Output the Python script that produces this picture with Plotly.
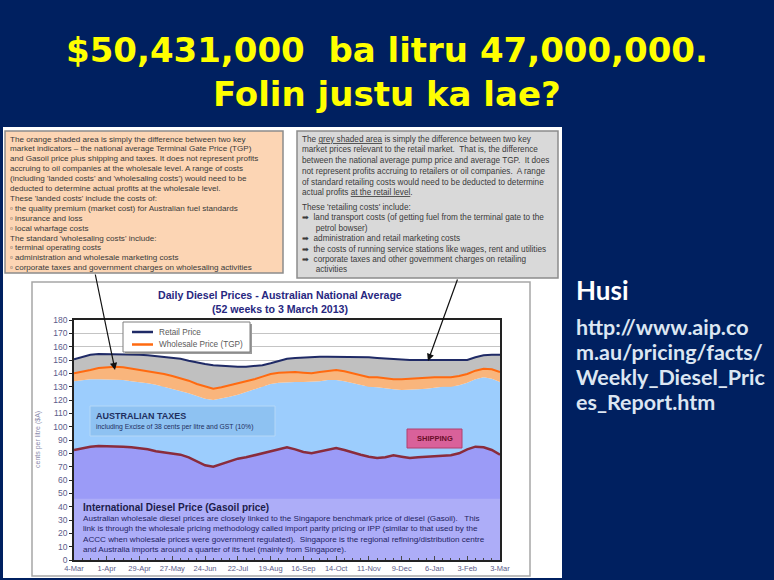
import plotly.graph_objects as go
import pandas as pd

W, H = 774, 580

# weekly readings, 52 weeks to 3 March 2013 (cents per litre)
WEEKS = pd.date_range("2012-03-04", "2013-03-03", freq="7D")
TICK_LABELS = ["4-Mar", "1-Apr", "29-Apr", "27-May", "24-Jun", "22-Jul", "19-Aug",
               "16-Sep", "14-Oct", "11-Nov", "9-Dec", "6-Jan", "3-Feb", "3-Mar"]

RETAIL = [150.5, 152.5, 154, 154.5, 154.5, 154.5, 154.5, 154, 154, 153.5,
          153, 152.5, 152, 151, 149.5, 148, 147, 146, 145.5, 145,
          145, 145, 145.5, 146, 147.5, 149.5, 151, 151.5, 152, 152,
          152.5, 152.5, 152.5, 152.5, 152.5, 152.5, 152, 151.5, 151, 150.5,
          150.5, 150, 150, 150, 150, 150, 150, 149.5, 150, 152,
          153.5, 154, 154]
TGP = [140, 141, 142.5, 144, 144.5, 145, 144.5, 143.5, 143, 142,
       141, 139.5, 138, 136.5, 134.5, 132, 130, 128.5, 129.5, 131,
       132.5, 133.5, 135.5, 137.5, 139.5, 140.5, 141, 141, 140.5, 140,
       141, 142, 142.5, 141.5, 140, 138.5, 137, 137, 136, 135.5,
       135.5, 136, 136.5, 136.5, 137, 137, 137, 138, 139.5, 142,
       143.5, 143, 141]
# gasoil + shipping + australian taxes
TAX_TOP = [134, 135, 135.5, 135.5, 135.5, 135.5, 135, 134, 133.5, 132.5,
           131.5, 130, 128.5, 127, 125, 123, 121, 120, 121, 122.5,
           124, 126, 128, 130, 132, 133, 133.5, 133.5, 133.5, 133.5,
           134, 135, 135, 134, 132.5, 131.5, 130, 129.5, 128.5, 128,
           127.5, 127.5, 128, 128.5, 129.5, 130, 130, 131, 133, 135.5,
           137, 136, 133.5]
GASOIL = [82.5, 84, 85, 85.5, 85.5, 85.5, 85, 84.5, 84, 83,
          81.5, 80.5, 80, 79, 77, 74, 71, 70, 72, 74.5,
          76, 77, 78.5, 80, 81.5, 83, 84.5, 83, 81, 80,
          81.5, 83, 84, 82.5, 80.5, 79, 77.5, 76.5, 77, 78.5,
          77.5, 76.5, 77, 77.5, 77.5, 78, 78.5, 80, 83, 85,
          84.5, 82.5, 79]

LEGEND_NAMES = ["Retail Price", "Wholesale Price (TGP)"]
LEGEND_COLORS = ["#1f2a66", "#ff6a10"]

ORANGE_NOTE = [
    "The orange shaded area is simply the difference between two key",
    "market indicators – the national average Terminal Gate Price (TGP)",
    "and Gasoil price plus shipping and taxes. It does not represent profits",
    "accruing to oil companies at the wholesale level. A range of costs",
    "(including 'landed costs' and 'wholesaling costs') would need to be",
    "deducted to determine actual profits at the wholesale level.",
    "These 'landed costs' include the costs of:",
    "▫ the quality premium (market cost) for Australian fuel standards",
    "▫ insurance and loss",
    "▫ local wharfage costs",
    "The standard 'wholesaling costs' include:",
    "▫ terminal operating costs",
    "▫ administration and wholesale marketing costs",
    "▫ corporate taxes and government charges on wholesaling activities",
]
GREY_NOTE = [
    "The <u>grey shaded area</u> is simply the difference between two key",
    "market prices relevant to the retail market.  That is, the difference",
    "between the national average pump price and average TGP.  It does",
    "not represent profits accruing to retailers or oil companies.  A range",
    "of standard retailing costs would need to be deducted to determine",
    "actual profits <u>at the retail level</u>.",
]
GREY_LIST = [
    "These 'retailing costs' include:",
    "➡  land transport costs (of getting fuel from the terminal gate to the",
    "      petrol bowser)",
    "➡  administration and retail marketing costs",
    "➡  the costs of running service stations like wages, rent and utilities",
    "➡  corporate taxes and other government charges on retailing",
    "      activities",
]
GASOIL_NOTE = [
    "Australian wholesale diesel prices are closely linked to the Singapore benchmark price of diesel (Gasoil).   This",
    "link is through the wholesale pricing methodology called import parity pricing or IPP (similar to that used by the",
    "ACCC when wholesale prices were government regulated).  Singapore is the regional refining/distribution centre",
    "and Australia imports around a quarter of its fuel (mainly from Singapore).",
]
URL_LINES = ["http://www.aip.co", "m.au/pricing/facts/", "Weekly_Diesel_Pric", "es_Report.htm"]

NAVY = "#002060"
AXIS_TXT = "#5c5c8a"
FONT = "Liberation Sans, Arial, sans-serif"


def px(x):
    return x / W


def py(y):
    return 1 - y / H


ann = []


def label(x, y, text, size, color, family=FONT, xanchor="left", angle=0):
    ann.append(dict(x=px(x), y=py(y), xref="paper", yref="paper", xanchor=xanchor,
                    yanchor="middle", showarrow=False, text=text, textangle=angle,
                    font=dict(family=family, size=size, color=color)))


fig = go.Figure()

# stacked bands
fig.add_trace(go.Scatter(x=WEEKS, y=GASOIL, fill="tozeroy", fillcolor="#9b9bf7",
                         line=dict(width=0), mode="lines", hoverinfo="skip"))
fig.add_trace(go.Scatter(x=WEEKS, y=TAX_TOP, fill="tonexty", fillcolor="#9ccdfd",
                         line=dict(width=0), mode="lines", hoverinfo="skip"))
fig.add_trace(go.Scatter(x=WEEKS, y=TGP, fill="tonexty", fillcolor="#f9b57c",
                         line=dict(width=0), mode="lines", hoverinfo="skip"))
fig.add_trace(go.Scatter(x=WEEKS, y=RETAIL, fill="tonexty", fillcolor="#c0c0c0",
                         line=dict(width=0), mode="lines", hoverinfo="skip"))

# lines on top
fig.add_trace(go.Scatter(x=WEEKS, y=GASOIL, mode="lines", name="Gasoil",
                         line=dict(color="#8a2c3c", width=2.5)))
fig.add_trace(go.Scatter(x=WEEKS, y=RETAIL, mode="lines", name=LEGEND_NAMES[0],
                         line=dict(color=LEGEND_COLORS[0], width=2)))
fig.add_trace(go.Scatter(x=WEEKS, y=TGP, mode="lines", name=LEGEND_NAMES[1],
                         line=dict(color=LEGEND_COLORS[1], width=2)))

shapes = [
    # photo area on the slide
    dict(type="rect", xref="paper", yref="paper", x0=px(3), x1=px(562), y0=py(578), y1=py(127),
         fillcolor="white", line=dict(width=0), layer="below"),
    # chart frame
    dict(type="rect", xref="paper", yref="paper", x0=px(32), x1=px(530), y0=py(576), y1=py(282),
         fillcolor="white", line=dict(color="#a6a6a6", width=1.5), layer="below"),
    # note boxes
    dict(type="rect", xref="paper", yref="paper", x0=px(5), x1=px(283), y0=py(273), y1=py(131),
         fillcolor="#fcd5b4", line=dict(color="#8c8c8c", width=1.5), layer="below"),
    dict(type="rect", xref="paper", yref="paper", x0=px(297), x1=px(558), y0=py(278), y1=py(131),
         fillcolor="#d9d9d9", line=dict(color="#8c8c8c", width=1.5), layer="below"),
    # gasoil text panel
    dict(type="rect", xref="x domain", yref="y", x0=0, x1=1, y0=0, y1=46,
         fillcolor="rgba(255,255,255,0.18)", line=dict(width=0), layer="above"),
    # australian taxes label box
    dict(type="rect", xref="paper", yref="paper", x0=px(90), x1=px(275), y0=py(436), y1=py(406),
         fillcolor="#8ec2f2", line=dict(color="#b5d8f7", width=1), layer="above"),
    # shipping label box
    dict(type="rect", xref="paper", yref="paper", x0=px(407), x1=px(462), y0=py(448), y1=py(429),
         fillcolor="#d9619a", line=dict(color="#b0406f", width=1), layer="above"),
    # legend box (with a soft shadow)
    dict(type="rect", xref="paper", yref="paper", x0=px(125), x1=px(252), y0=py(354), y1=py(324),
         fillcolor="#9a9a9a", line=dict(width=0), layer="above"),
    dict(type="rect", xref="paper", yref="paper", x0=px(123), x1=px(250), y0=py(352), y1=py(322),
         fillcolor="white", line=dict(color="#7f7f7f", width=1), layer="above"),
]

# manual legend
for i, (name, col) in enumerate(zip(LEGEND_NAMES, LEGEND_COLORS)):
    yy = 332 + 12.5 * i
    shapes.append(dict(type="line", xref="paper", yref="paper", x0=px(132), x1=px(153),
                       y0=py(yy), y1=py(yy), line=dict(color=col, width=2.5), layer="above"))
    label(157, yy, name, 8.2, "#5a5a5a")

# slide title
label(387, 50, "<b>$50,431,000  ba litru 47,000,000.</b>", 34, "#ffff00", "DejaVu Sans", "center")
label(387, 94, "<b>Folin justu ka lae?</b>", 34, "#ffff00", "DejaVu Sans", "center")

# source on the right
label(574, 290, "<b>Husi</b>", 26, "white", "Lato")
for i, line in enumerate(URL_LINES):
    label(574, 327 + 25 * i, f"<b>{line}</b>", 21.5, "#dce6f2", "Lato")

# text boxes above chart
for i, line in enumerate(ORANGE_NOTE):
    label(8, 139 + 9.9 * i, line, 8.1, "#3a3a3a")
for i, line in enumerate(GREY_NOTE):
    label(300, 139 + 10.8 * i, line, 8.2, "#3a3a3a")
for i, line in enumerate(GREY_LIST):
    label(300, 207 + 10.5 * i, line, 8.2, "#3a3a3a")

# arrows pointing into the chart
ann.append(dict(x=px(115), y=py(370), xref="paper", yref="paper", ax=-20, ay=-97,
                showarrow=True, arrowhead=2, arrowsize=1.2, arrowwidth=1.2, arrowcolor="#111", text=""))
ann.append(dict(x=px(428), y=py(361), xref="paper", yref="paper", ax=30, ay=-83,
                showarrow=True, arrowhead=2, arrowsize=1.2, arrowwidth=1.2, arrowcolor="#111", text=""))

# chart title and axis title
label(280, 295, "<b>Daily Diesel Prices - Australian National Average</b>", 10.6, "#27277f", xanchor="center")
label(280, 309, "<b>(52 weeks to 3 March 2013)</b>", 10.6, "#27277f", xanchor="center")
label(38, 440, "cents per litre ($A)", 7, "#8a8aaa", xanchor="center", angle=-90)

# in-chart labels
label(94, 416, "<b>AUSTRALIAN TAXES</b>", 9, "#1f2f5f")
label(94, 427, "including Excise of 38 cents per litre and GST (10%)", 6.8, "#1f2f5f")
label(434.5, 438.5, "<b>SHIPPING</b>", 7.5, "#6b0f2a", xanchor="center")
label(81, 507, "<b>International Diesel Price (Gasoil price)</b>", 10, "#1c1c4c")
for i, line in enumerate(GASOIL_NOTE):
    label(81, 518.5 + 10.4 * i, line, 8.1, "#1f1f5f")

fig.update_layout(
    template="none",
    width=W, height=H,
    paper_bgcolor=NAVY,
    plot_bgcolor="white",
    margin=dict(l=0, r=0, t=0, b=0, pad=0),
    font=dict(family=FONT, color=AXIS_TXT),
    shapes=shapes,
    annotations=ann,
    showlegend=False,
    hovermode=False,
    xaxis=dict(
        domain=[px(74), px(500)],
        automargin=False,
        range=[WEEKS[0], WEEKS[-1]],
        tickvals=pd.date_range(WEEKS[0], periods=len(TICK_LABELS), freq="28D"),
        ticktext=TICK_LABELS,
        tickfont=dict(size=7.5, color=AXIS_TXT),
        ticks="inside", ticklen=4, tickcolor="#222",
        minor=dict(ticks="inside", ticklen=2, dtick=7 * 86400000, tickcolor="#222"),
        showgrid=False, showline=True, linecolor="#222", linewidth=1.5, mirror=True,
        zeroline=False,
    ),
    yaxis=dict(
        domain=[py(560), py(320)],
        automargin=False,
        range=[0, 180], dtick=10,
        tickfont=dict(size=8.5, color=AXIS_TXT),
        ticks="outside", ticklen=3, tickcolor="#222",
        showgrid=True, gridcolor="#c4c4c4", gridwidth=1,
        showline=True, linecolor="#222", linewidth=1.5, mirror=True, zeroline=False,
    ),
    yaxis2=dict(
        overlaying="y", side="right", anchor="x",
        automargin=False,
        range=[0, 180], dtick=10,
        tickfont=dict(size=8.5, color=AXIS_TXT),
        ticks="outside", ticklen=3, tickcolor="#222",
        showgrid=False, zeroline=False, showline=False,
    ),
)

fig.write_html("out.html", config={"displayModeBar": False},
               post_script="document.body.style.margin='0';")
